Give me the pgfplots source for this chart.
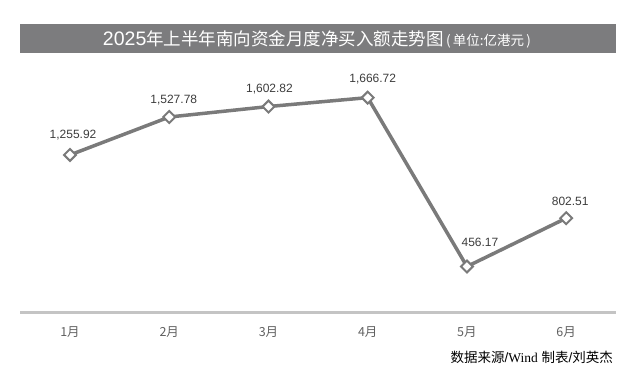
\documentclass[border=0pt]{standalone}
\usepackage{fontspec}
\setmainfont{Liberation Sans}
\newfontfamily\cjk{Noto Sans CJK SC}
\newfontfamily\lserif{Liberation Serif}
\usepackage{pgfplots}
\pgfplotsset{compat=1.18}
\definecolor{linegray}{HTML}{7A7A7A}
\definecolor{bargray}{HTML}{7C7C7E}
\definecolor{axisgray}{HTML}{C4C4C4}
\definecolor{txtgray}{HTML}{3C3C3C}
\definecolor{ticktxt}{HTML}{606060}
\begin{document}
\begin{tikzpicture}[x=1pt,y=1pt]
\path[use as bounding box] (0,0) rectangle (636,373);
\fill[bargray] (20,320) rectangle (616,349);
\node[white, anchor=base, inner sep=0pt] at (317,327) {{\fontsize{19.5}{19.5}\selectfont 2025}{\cjk\fontsize{17.5}{17.5}\selectfont 年上半年南向资金月度净买入额走势图}{\cjk\fontsize{13.5}{13.5}\selectfont\,(\,单位:亿港元\,)}};
\begin{axis}[at={(20.4pt,60.3pt)}, anchor=south west, scale only axis, width=595.4pt, height=259.7pt,
 xmin=-0.5, xmax=5.5, ymin=125, ymax=1986.6,
 axis x line=bottom, axis y line=none, x axis line style={axisgray, line width=2.5pt, -},
 xtick={0,...,5}, xticklabels={1月,2月,3月,4月,5月,6月}, major tick length=0pt,
 xticklabel style={font=\cjk\fontsize{12.5}{12.5}\selectfont, text=ticktxt, anchor=base, yshift=-24pt, inner sep=0pt},
 clip=false]
\addplot[linegray, line width=3.5pt, mark=square*, mark size=4.2pt, mark options={fill=white, draw=linegray, line width=2pt, rotate=45}] coordinates {(0,1255.92)(1,1527.78)(2,1602.82)(3,1666.72)(4,456.17)(5,802.51)};
\begin{scope}[every node/.style={anchor=base, font=\fontsize{12}{12}\selectfont, text=txtgray, inner sep=0pt}]
\node[yshift=16pt, xshift=3pt] at (axis cs:0,1255.92) {1,255.92};
\node[yshift=14pt, xshift=4.5pt] at (axis cs:1,1527.78) {1,527.78};
\node[yshift=14pt, xshift=1pt] at (axis cs:2,1602.82) {1,602.82};
\node[yshift=15pt, xshift=5pt] at (axis cs:3,1666.72) {1,666.72};
\node[yshift=20pt, xshift=13pt] at (axis cs:4,456.17) {456.17};
\node[yshift=13pt, xshift=4pt] at (axis cs:5,802.51) {802.51};
\end{scope}
\end{axis}
\node[anchor=base east, inner sep=0pt, text=black, font=\fontsize{13.5}{13.5}\selectfont] at (613,11) {{\cjk 数据来源}/{\lserif Wind} {\cjk 制表}/{\cjk 刘英杰}};
\end{tikzpicture}
\end{document}
